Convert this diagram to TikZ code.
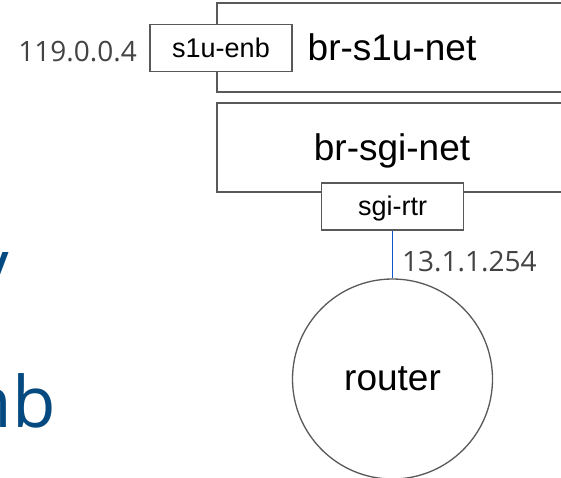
\documentclass[tikz,border=0pt]{standalone}
\usepackage{fontspec}
\setmainfont{Liberation Sans}
\newfontfamily\opensans{Open Sans}
\usepackage{xcolor}
\definecolor{boxgray}{HTML}{595959}
\definecolor{ipgray}{HTML}{434343}
\definecolor{slideblue}{RGB}{4,74,128}
\definecolor{linkblue}{HTML}{1155CC}
\newcommand{\fs}[1]{\fontsize{#1}{#1}\selectfont}

\begin{document}
\begin{tikzpicture}[x=1pt,y=-1pt,
    bridge/.style={draw=boxgray,line width=1.3pt,fill=white,inner sep=0,minimum width=350,minimum height=89,font=\fs{37},text height=26,text depth=1},
    port/.style={draw=boxgray,line width=1.3pt,fill=white,inner sep=0,minimum width=142,minimum height=47,font=\fs{27},text height=19,text depth=1},
    ip/.style={inner sep=0,text=ipgray,font=\opensans\fs{28}},
    slide/.style={inner sep=0,text=slideblue,font=\opensans\fs{71}}]
    \useasboundingbox (0,0) rectangle (561,477);
    \clip (0,0) rectangle (561,477);
    \fill[white] (0,0) rectangle (561,477);
    \node[slide,anchor=base east] (wtext) at (9,290) {v};
    \node[slide,anchor=base east] (nbtext) at (56,427) {nb};
    \node[bridge] (s1unet) at (392,47.5) {br-s1u-net};
    \node[bridge] (sginet) at (392,147.5) {br-sgi-net};
    \node[port] (s1uenb) at (221,48) {s1u-enb};
    \node[port] (sgirtr) at (392.5,206.5) {sgi-rtr};
    \node[draw=boxgray,line width=1.3pt,circle,inner sep=0,minimum size=200,font=\fs{37}] (router) at (392.5,379) {router};
    \draw[linkblue,line width=1.3pt] (sgirtr.south) -- (router.north);
    \node[ip,anchor=base east] (enbip) at (137,61) {119.0.0.4};
    \node[ip,anchor=base west] (rtrip) at (402,271) {13.1.1.254};
\end{tikzpicture}
\end{document}
